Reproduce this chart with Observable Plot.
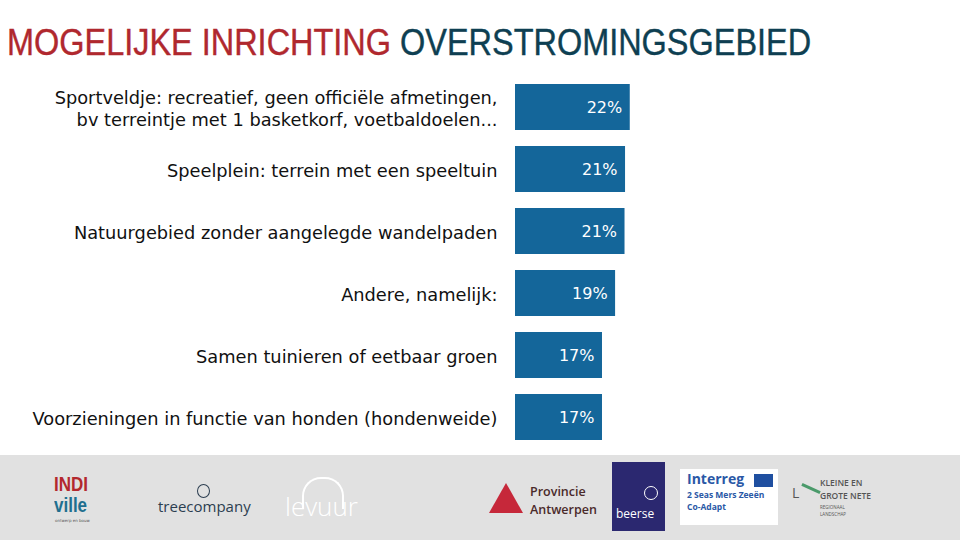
<!DOCTYPE html>
<html>
<head>
<meta charset="utf-8">
<script src="https://cdn.jsdelivr.net/npm/d3@7"></script>
<script src="https://cdn.jsdelivr.net/npm/@observablehq/plot@0.6"></script>
<style>
  html, body { margin: 0; padding: 0; background: #fff; }
  #wrap { position: relative; width: 960px; height: 540px; overflow: hidden; font-family: "DejaVu Sans", sans-serif; }
  #title { position: absolute; left: 7px; top: 22px; font-family: "Liberation Sans", sans-serif; font-size: 37px; white-space: nowrap; transform: scaleX(0.877); transform-origin: 0 0; -webkit-text-stroke: 0.4px currentColor; }
  #title .a { color: #b0282e; }
  #title .b { color: #0e3f52; }
  #chart { position: absolute; left: 0; top: 0; }
  #footer { position: absolute; left: 0; top: 455px; width: 960px; height: 85px; background: #e1e1e1; }
  .logo { position: absolute; white-space: nowrap; line-height: 1; }
</style>
</head>
<body>
<div id="wrap">
  <div id="chart"></div>
  <div id="title"><span class="a">MOGELIJKE INRICHTING</span> <span class="b">OVERSTROMINGSGEBIED</span></div>
  <div id="footer">
    <div class="logo" style="left:54px;top:20px;font-family:'Liberation Sans',sans-serif;font-weight:bold;font-size:17px;color:#b3282e;transform:scaleY(1.15);transform-origin:0 0;">INDI</div>
    <div class="logo" style="left:54px;top:41px;font-family:'Liberation Sans',sans-serif;font-weight:bold;font-size:17px;color:#1f6f8f;transform:scaleY(1.15);transform-origin:0 0;">ville</div>
    <div class="logo" style="left:55px;top:64px;font-size:4px;color:#555;">ontwerp en bouw</div>
    <div class="logo" style="left:158px;top:44px;font-family:'Open Sans',sans-serif;font-size:15px;color:#2c3e50;">treecompany</div>
    <div class="logo" style="left:197px;top:29px;width:11px;height:12px;border:1.5px solid #2c3e50;border-radius:50%;"></div>
    <div class="logo" style="left:285px;top:38px;font-family:'Open Sans',sans-serif;font-size:26px;font-weight:300;color:#fff;">levuur</div>
    <div class="logo" style="left:302px;top:22px;width:38px;height:30px;border:2px solid #fff;border-bottom:none;border-radius:19px 19px 0 0;"></div>
    <div class="logo" style="left:489px;top:28px;width:0;height:0;border-left:17px solid transparent;border-right:17px solid transparent;border-bottom:30px solid #c6283a;"></div>
    <div class="logo" style="left:530px;top:31px;font-family:'Open Sans',sans-serif;font-size:12.5px;font-weight:600;color:#4a2a2a;">Provincie</div>
    <div class="logo" style="left:530px;top:49px;font-family:'Open Sans',sans-serif;font-size:12.5px;font-weight:600;color:#4a2a2a;">Antwerpen</div>
    <div class="logo" style="left:612px;top:7px;width:53px;height:69px;background:#2b2870;">
      <div style="position:absolute;left:4px;top:46px;font-family:'Open Sans',sans-serif;font-size:12px;line-height:1;color:#fff;">beerse</div>
      <div style="position:absolute;left:32px;top:24px;width:12px;height:12px;border:1.5px solid #fff;border-radius:50%;"></div>
    </div>
    <div class="logo" style="left:680px;top:14px;width:98px;height:56px;background:#fff;">
      <div style="position:absolute;left:7px;top:3px;font-family:'Open Sans',sans-serif;font-size:14px;line-height:1;font-weight:bold;color:#2a58a6;">Interreg</div>
      <div style="position:absolute;left:74px;top:5px;width:19px;height:13px;background:#1f4fa0;"></div>
      <div style="position:absolute;left:7px;top:22px;font-family:'Open Sans',sans-serif;font-size:8.5px;line-height:1;font-weight:bold;color:#2a58a6;">2 Seas Mers Zeeën</div>
      <div style="position:absolute;left:7px;top:34px;font-family:'Open Sans',sans-serif;font-size:8.5px;line-height:1;font-weight:bold;color:#2a58a6;">Co-Adapt</div>
    </div>
    <div class="logo" style="left:792px;top:31px;font-family:'Open Sans',sans-serif;font-size:14px;color:#555;">L</div>
    <div class="logo" style="left:801px;top:32px;width:20px;height:3px;background:#4a9a6a;transform:rotate(25deg);"></div>
    <div class="logo" style="left:820px;top:24px;font-family:'Open Sans',sans-serif;font-size:8.5px;font-weight:600;color:#555;">KLEINE EN</div>
    <div class="logo" style="left:820px;top:37px;font-family:'Open Sans',sans-serif;font-size:8.5px;font-weight:600;color:#555;">GROTE NETE</div>
    <div class="logo" style="left:820px;top:50px;font-family:'Open Sans',sans-serif;font-size:4.5px;color:#555;">REGIONAAL</div>
    <div class="logo" style="left:820px;top:57px;font-family:'Open Sans',sans-serif;font-size:4.5px;color:#555;">LANDSCHAP</div>
  </div>
</div>
<script>
const categories = [
  "Sportveldje: recreatief, geen officiële afmetingen,\nbv terreintje met 1 basketkorf, voetbaldoelen...",
  "Speelplein: terrein met een speeltuin",
  "Natuurgebied zonder aangelegde wandelpaden",
  "Andere, namelijk:",
  "Samen tuinieren of eetbaar groen",
  "Voorzieningen in functie van honden (hondenweide)"
];
const values = [21.9, 21.0, 20.9, 19.1, 16.6, 16.6];
const valueLabels = ["22%", "21%", "21%", "19%", "17%", "17%"];

const data = categories.map((c, i) => ({cat: c, value: values[i], label: valueLabels[i]}));

const chart = Plot.plot({
  width: 960,
  height: 448,
  marginTop: 76,
  marginBottom: 0,
  marginLeft: 515,
  marginRight: 314,
  style: {background: "transparent", fontFamily: "DejaVu Sans, sans-serif"},
  x: {domain: [0, 25], axis: null},
  y: {domain: categories, paddingInner: 16/62, paddingOuter: 8/62, axis: null},
  marks: [
    Plot.barX(data, {x: "value", y: "cat", fill: "#14669a"}),
    Plot.text(data, {x: 0, y: "cat", text: "cat", textAnchor: "end", dx: -18, fontSize: 17.8, lineHeight: 1.24, fill: "#111"}),
    Plot.text(data, {x: "value", y: "cat", text: "label", textAnchor: "end", dx: -8, fontSize: 16, fill: "#fff"})
  ]
});
document.getElementById("chart").appendChild(chart);
</script>
</body>
</html>
